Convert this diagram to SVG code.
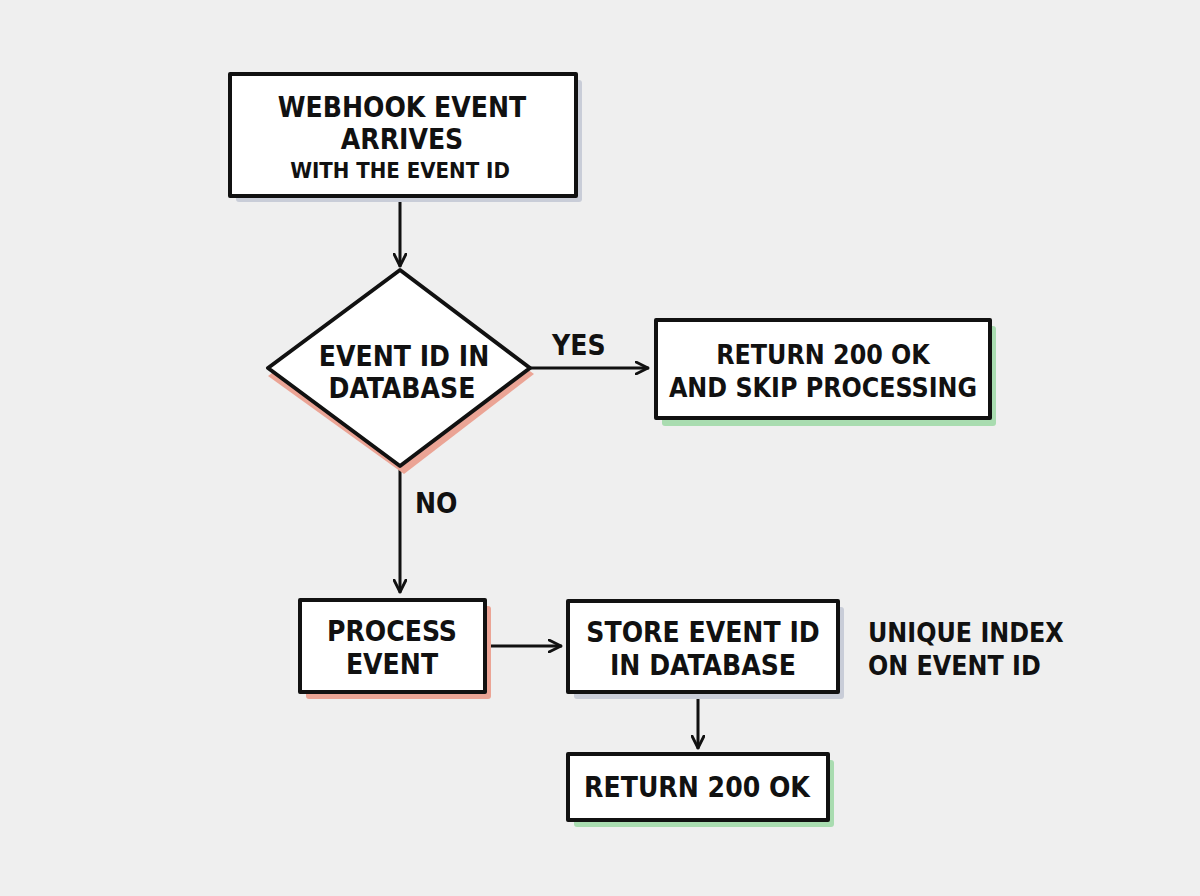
<svg xmlns="http://www.w3.org/2000/svg" width="1200" height="896" viewBox="0 0 1200 896">
<defs>
<style>
.bg{fill:#efefef}
.box{fill:#ffffff;stroke:#111;stroke-width:4;stroke-linejoin:round}
.t{font-family:"DejaVu Sans Condensed","DejaVu Sans",sans-serif;font-weight:bold;font-size:28px;fill:#111;text-anchor:middle}
.ts{font-size:22px}
.tm{font-size:26.5px}
.lbl{text-anchor:start}
.edge{fill:none;stroke:#111;stroke-width:3;stroke-linecap:round}
.sh-blue{fill:#c9cdd8}
.sh-red{fill:#eba495}
.sh-green{fill:#a9dcb0}
</style>
<marker id="arr" viewBox="0 0 14 14" refX="13" refY="7" markerWidth="14" markerHeight="14" markerUnits="userSpaceOnUse" orient="auto">
<path d="M1,1 L13,7 L1,13" fill="none" stroke="#111" stroke-width="2.8" stroke-linecap="round" stroke-linejoin="round"/>
</marker>
</defs>
<rect class="bg" width="1200" height="896"/>

<g id="connectors">
<line class="edge" x1="400" y1="196" x2="400" y2="266" marker-end="url(#arr)"/>
<line class="edge" x1="530" y1="368" x2="648" y2="368" marker-end="url(#arr)"/>
<line class="edge" x1="400" y1="467" x2="400" y2="592" marker-end="url(#arr)"/>
<line class="edge" x1="486" y1="646" x2="561" y2="646" marker-end="url(#arr)"/>
<line class="edge" x1="698" y1="693" x2="698" y2="748" marker-end="url(#arr)"/>
<text class="t lbl" x="552" y="355">YES</text>
<text class="t lbl" x="415" y="513">NO</text>
</g>

<g id="webhook">
<rect class="sh-blue" x="236" y="80" width="346" height="122" rx="3"/>
<rect class="box" x="230" y="74" width="346" height="122"/>
<text class="t" x="402" y="117">WEBHOOK EVENT</text>
<text class="t" x="402" y="149">ARRIVES</text>
<text class="t ts" x="400" y="178">WITH THE EVENT ID</text>
</g>

<g id="decision">
<path class="sh-red" d="M400,278 L534,374 L404,474 L268,376 Z"/>
<path class="box" d="M400,270 L530,368 L400,466 L268,368 Z"/>
<text class="t" x="404" y="366">EVENT ID IN</text>
<text class="t" x="402" y="398">DATABASE</text>
</g>

<g id="skip">
<rect class="sh-green" x="662" y="326" width="334" height="100" rx="3"/>
<rect class="box" x="656" y="320" width="334" height="98"/>
<text class="t tm" x="823" y="364">RETURN 200 OK</text>
<text class="t tm" x="823" y="397">AND SKIP PROCESSING</text>
</g>

<g id="process">
<rect class="sh-red" x="306" y="606" width="185" height="93" rx="3"/>
<rect class="box" x="300" y="600" width="185" height="92"/>
<text class="t" x="392" y="641">PROCESS</text>
<text class="t" x="392" y="674">EVENT</text>
</g>

<g id="store">
<rect class="sh-blue" x="574" y="607" width="270" height="92" rx="3"/>
<rect class="box" x="568" y="601" width="270" height="91"/>
<text class="t" x="703" y="642">STORE EVENT ID</text>
<text class="t" x="703" y="675">IN DATABASE</text>
</g>

<g id="note">
<text class="t tm lbl" x="868" y="642">UNIQUE INDEX</text>
<text class="t tm lbl" x="868" y="675">ON EVENT ID</text>
</g>

<g id="ok">
<rect class="sh-green" x="574" y="760" width="260" height="67" rx="3"/>
<rect class="box" x="568" y="754" width="260" height="66"/>
<text class="t" x="697" y="797">RETURN 200 OK</text>
</g>
</svg>
